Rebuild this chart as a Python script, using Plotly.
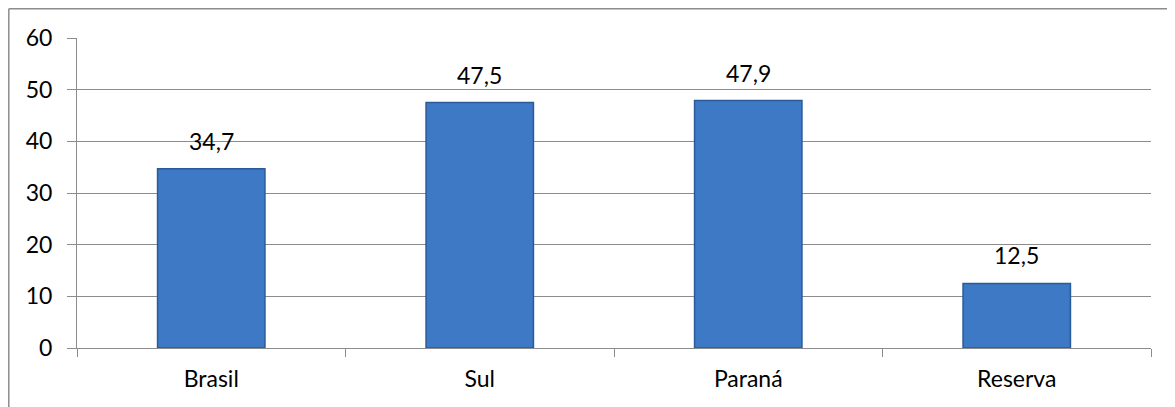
import plotly.graph_objects as go

# data
categories = ["Brasil", "Sul", "Paraná", "Reserva"]
values = [34.7, 47.5, 47.9, 12.5]
y_ticks = [0, 10, 20, 30, 40, 50, 60]

bar_color = "#3D79C5"
edge_color = "#2A5B98"
grid_color = "#8C8C8C"
font = dict(family="Lato, 'Open Sans', Arial, sans-serif", size=23, color="#000000")

fig = go.Figure()
fig.add_trace(go.Bar(
    x=categories,
    y=values,
    marker=dict(color=bar_color, line=dict(color=edge_color, width=1.5)),
    hoverinfo="x+y",
))

# value labels above each bar (comma as decimal mark, as in the original)
for cat, val in zip(categories, values):
    fig.add_annotation(
        x=cat, y=val, text=f"{val:.1f}".replace(".", ","),
        showarrow=False, yanchor="bottom", yshift=12, font=font,
    )

# chart frame: only top and left edges fall inside the picture
fig.add_shape(type="line", xref="paper", yref="paper",
              x0=-0.0635, x1=1.1, y0=1.094, y1=1.094,
              line=dict(color="#8C8C8C", width=1.5))
fig.add_shape(type="line", xref="paper", yref="paper",
              x0=-0.0635, x1=-0.0635, y0=1.094, y1=-0.3,
              line=dict(color="#8C8C8C", width=1.5))

# page body adds an 8px offset, so the figure is 8px smaller on each side
fig.update_layout(
    width=1167,
    height=399,
    margin=dict(l=69, r=24, t=30, b=59),
    paper_bgcolor="white",
    plot_bgcolor="white",
    bargap=0.6,
    showlegend=False,
    separators=",.",
    font=font,
)
fig.update_xaxes(
    showline=True, linecolor=grid_color, linewidth=1,
    ticks="outside", ticklen=8, tickcolor=grid_color, tickson="boundaries",
    showgrid=False, tickfont=font, ticklabelstandoff=10,
)
fig.update_yaxes(
    range=[0, 60], tickvals=y_ticks,
    showline=True, linecolor=grid_color, linewidth=1,
    ticks="outside", ticklen=9, tickcolor=grid_color,
    showgrid=True, gridcolor=grid_color, gridwidth=1,
    zeroline=False, tickfont=font, ticklabelstandoff=10,
)

fig.write_html("out.html")
